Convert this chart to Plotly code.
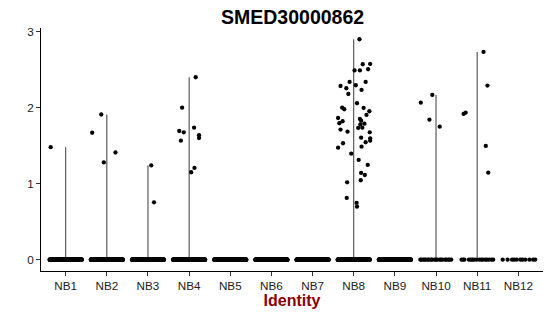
import numpy as np
import plotly.graph_objects as go

# ---------------- data ----------------
categories = ["NB1", "NB2", "NB3", "NB4", "NB5", "NB6", "NB7", "NB8",
              "NB9", "NB10", "NB11", "NB12"]

# non-zero expression values per cluster
expr_nb1 = [1.48]
expr_nb2 = [1.91, 1.67, 1.41, 1.28]
expr_nb3 = [1.24, 0.755]
expr_nb4 = [2.40, 2.00, 1.737, 1.693, 1.676, 1.637, 1.60, 1.566, 1.207, 1.15]
expr_nb8 = [2.90, 2.571, 2.575, 2.49, 2.49, 2.505, 2.338, 2.338, 2.285, 2.255,
            2.295, 2.233, 2.18, 2.058, 2.0, 1.979, 1.996, 1.953, 1.864, 1.904,
            1.851, 1.829, 1.789, 1.795, 1.821, 1.78, 1.733, 1.737, 1.711, 1.684,
            1.676, 1.605, 1.597, 1.566, 1.545, 1.532, 1.474, 1.487, 1.395, 1.312,
            1.246, 1.141, 1.114, 1.045, 1.018, 0.812, 0.746, 0.697]
expr_nb10 = [2.167, 2.066, 1.842, 1.75]
expr_nb11 = [2.733, 2.29, 1.917, 1.934, 1.496, 1.145]

# horizontal jitter of those points (category units)
jit_nb1 = [-0.365]
jit_nb2 = [-0.136, -0.356, 0.21, -0.073]
jit_nb3 = [0.08, 0.146]
jit_nb4 = [0.16, -0.17, 0.12, -0.24, -0.13, 0.24, 0.24, -0.20, 0.13, 0.05]
jit_nb8 = [0.14, 0.22, 0.40, 0.02, 0.15, 0.35, -0.10, 0.29, -0.32, -0.18,
           0.05, 0.19, -0.13, 0.08, -0.28, -0.23, 0.24, 0.38, -0.38, 0.31,
           0.15, 0.18, 0.26, -0.35, -0.27, 0.16, 0.11, 0.21, -0.32, -0.15,
           0.39, 0.18, 0.40, 0.40, 0.29, -0.26, -0.38, 0.19, -0.06, 0.12,
           0.34, 0.18, 0.27, 0.17, -0.16, -0.17, 0.07, 0.08]
jit_nb10 = [-0.09, -0.37, -0.16, 0.09]
jit_nb11 = [0.155, 0.25, -0.33, -0.28, 0.21, 0.27]

# zero-expression cells: dense clusters (count) and sparse clusters (jitter)
zero_counts = [260, 260, 260, 260, 260, 260, 260, 260, 260, 0, 0, 0]
zero_jit_nb10 = [-0.38, -0.35, -0.31, -0.27, -0.25, -0.20, -0.17, -0.12, -0.10,
                 -0.04, 0.0, 0.03, 0.09, 0.12, 0.16, 0.22, 0.25, 0.30, 0.33, 0.37]
zero_jit_nb11 = [-0.38, -0.34, -0.31, -0.20, -0.16, -0.12, -0.08, -0.02, 0.05,
                 0.10, 0.14, 0.20, 0.24, 0.29, 0.35, 0.39]
zero_jit_nb12 = [-0.38, -0.26, -0.15, -0.10, -0.04, 0.05, 0.10, 0.17, 0.27,
                 0.36, 0.41]

nonzero = {0: (expr_nb1, jit_nb1), 1: (expr_nb2, jit_nb2), 2: (expr_nb3, jit_nb3),
           3: (expr_nb4, jit_nb4), 7: (expr_nb8, jit_nb8),
           9: (expr_nb10, jit_nb10), 10: (expr_nb11, jit_nb11)}
sparse_zero = {9: zero_jit_nb10, 10: zero_jit_nb11, 11: zero_jit_nb12}

fig = go.Figure()

# "violins" (collapsed to thin lines from 0 to max)
for i, (vals, _) in nonzero.items():
    fig.add_trace(go.Scatter(x=[i, i], y=[0, max(vals)], mode="lines",
                             line=dict(color="#3a3a3a", width=1),
                             hoverinfo="skip", showlegend=False))

# points
xs, ys = [], []
for i, cnt in enumerate(zero_counts):
    if cnt > 0:
        offs = np.linspace(-0.39, 0.39, cnt)
        xs += list(i + offs)
        ys += [0.0] * cnt
for i, offs in sparse_zero.items():
    xs += [i + o for o in offs]
    ys += [0.0] * len(offs)
for i, (vals, jit) in nonzero.items():
    xs += [i + o for o in jit]
    ys += list(vals)

fig.add_trace(go.Scatter(x=xs, y=ys, mode="markers",
                         marker=dict(color="black", size=4.3, line=dict(width=0)),
                         showlegend=False))

axis_font = dict(family="Liberation Sans, Arial, sans-serif", size=11.7, color="#222222")

fig.update_layout(
    width=550, height=316,
    margin=dict(l=41, r=7, t=28, b=45),
    paper_bgcolor="white", plot_bgcolor="white",
    font=dict(family="Liberation Sans, Arial, sans-serif"),
    title=dict(text="<b>SMED30000862</b>", x=0.532, xref="container",
               y=1 - 17 / 316, yref="container", yanchor="middle", xanchor="center",
               font=dict(size=19.5, color="black")),
    xaxis=dict(range=[-0.6, 11.6], tickmode="array",
               tickvals=list(range(len(categories))), ticktext=categories,
               showline=True, linecolor="black", linewidth=1,
               ticks="outside", ticklen=4, tickcolor="#333333",
               showgrid=False, zeroline=False, tickfont=axis_font,
               title=dict(text="<b>Identity</b>", standoff=3,
                          font=dict(size=16, color="#8B0000"))),
    yaxis=dict(range=[-0.149, 3.048], tickmode="array", tickvals=[0, 1, 2, 3],
               showline=True, linecolor="black", linewidth=1,
               ticks="outside", ticklen=4, tickcolor="#333333",
               showgrid=False, zeroline=False, tickfont=axis_font),
)

fig.write_html("out.html")
